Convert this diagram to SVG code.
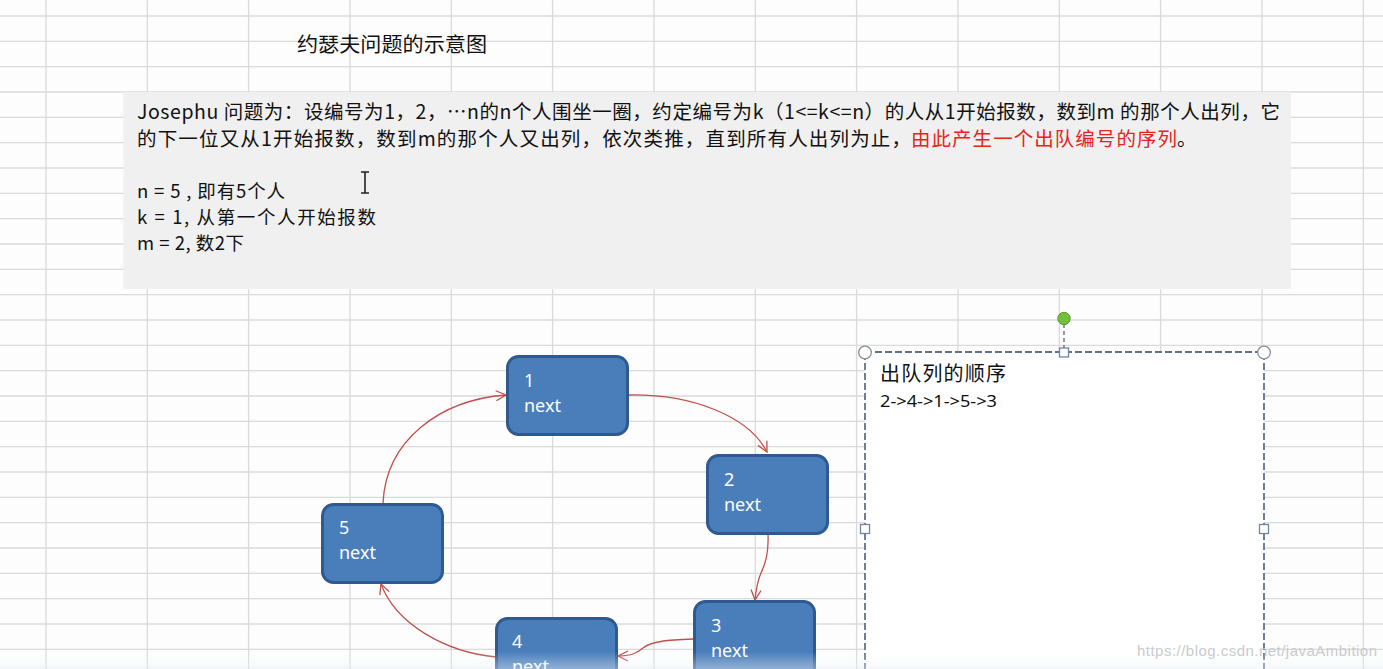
<svg xmlns="http://www.w3.org/2000/svg" width="1383" height="669" viewBox="0 0 1383 669">
<defs>
<style>
.grid line{stroke:#dadada;stroke-width:1.3}
.cjk{font-family:"Noto Sans CJK SC","Noto Sans",sans-serif;fill:#111}
.node rect{fill:#4a7ebb;stroke:#2f5a8f;stroke-width:3}
.node text{font-family:"Noto Sans","Open Sans",sans-serif;font-size:18px;fill:#fff}
.conn path{fill:none;stroke:#c0504d;stroke-width:1.3}
.handle{fill:#fff;stroke:#8a8f96;stroke-width:1.3}
.sq{fill:#fff;stroke:#6d86a8;stroke-width:1.3}
</style>
<marker id="arr" viewBox="0 0 12 12" refX="11" refY="6" markerWidth="12" markerHeight="12" markerUnits="userSpaceOnUse" orient="auto">
<path d="M1,1 L11,6 L1,11" fill="none" stroke="#c0504d" stroke-width="1.3"/>
</marker>
<linearGradient id="btm" x1="0" y1="0" x2="0" y2="1">
<stop offset="0" stop-color="#ffffff" stop-opacity="0"/>
<stop offset="1" stop-color="#e6edf2" stop-opacity="0.45"/>
</linearGradient>
</defs>
<rect width="1383" height="669" fill="#fdfdfd"/>
<g class="grid">
<line x1="46" y1="0" x2="46" y2="669"/><line x1="147.3" y1="0" x2="147.3" y2="669"/><line x1="248.6" y1="0" x2="248.6" y2="669"/><line x1="350" y1="0" x2="350" y2="669"/><line x1="451.3" y1="0" x2="451.3" y2="669"/><line x1="552.6" y1="0" x2="552.6" y2="669"/><line x1="654" y1="0" x2="654" y2="669"/><line x1="755.3" y1="0" x2="755.3" y2="669"/><line x1="856.6" y1="0" x2="856.6" y2="669"/><line x1="958" y1="0" x2="958" y2="669"/><line x1="1059.3" y1="0" x2="1059.3" y2="669"/><line x1="1160.6" y1="0" x2="1160.6" y2="669"/><line x1="1262" y1="0" x2="1262" y2="669"/><line x1="1363.3" y1="0" x2="1363.3" y2="669"/>
<line x1="0" y1="16" x2="1383" y2="16"/><line x1="0" y1="41.3" x2="1383" y2="41.3"/><line x1="0" y1="66.6" x2="1383" y2="66.6"/><line x1="0" y1="92" x2="1383" y2="92"/><line x1="0" y1="117.3" x2="1383" y2="117.3"/><line x1="0" y1="142.6" x2="1383" y2="142.6"/><line x1="0" y1="168" x2="1383" y2="168"/><line x1="0" y1="193.3" x2="1383" y2="193.3"/><line x1="0" y1="218.6" x2="1383" y2="218.6"/><line x1="0" y1="244" x2="1383" y2="244"/><line x1="0" y1="269.3" x2="1383" y2="269.3"/><line x1="0" y1="294.6" x2="1383" y2="294.6"/><line x1="0" y1="320" x2="1383" y2="320"/><line x1="0" y1="345.3" x2="1383" y2="345.3"/><line x1="0" y1="370.6" x2="1383" y2="370.6"/><line x1="0" y1="396" x2="1383" y2="396"/><line x1="0" y1="421.3" x2="1383" y2="421.3"/><line x1="0" y1="446.6" x2="1383" y2="446.6"/><line x1="0" y1="472" x2="1383" y2="472"/><line x1="0" y1="497.3" x2="1383" y2="497.3"/><line x1="0" y1="522.6" x2="1383" y2="522.6"/><line x1="0" y1="548" x2="1383" y2="548"/><line x1="0" y1="573.3" x2="1383" y2="573.3"/><line x1="0" y1="598.6" x2="1383" y2="598.6"/><line x1="0" y1="624" x2="1383" y2="624"/><line x1="0" y1="649.3" x2="1383" y2="649.3"/>
</g>
<g id="title">
<text class="cjk" x="297" y="52" font-size="20" textLength="190" lengthAdjust="spacingAndGlyphs">约瑟夫问题的示意图</text>
</g>
<g id="description">
<rect x="123.5" y="92" width="1167.5" height="197" fill="#f0f0f0"/>
<text class="cjk" x="137" y="119" font-size="19.5" textLength="1143" lengthAdjust="spacing">Josephu 问题为：设编号为1，2，…n的n个人围坐一圈，约定编号为k（1&lt;=k&lt;=n）的人从1开始报数，数到m 的那个人出列，它</text>
<text class="cjk" x="137" y="146" font-size="19.5"><tspan textLength="774" lengthAdjust="spacing">的下一位又从1开始报数，数到m的那个人又出列，依次类推，直到所有人出列为止，</tspan><tspan x="911" fill="#e8231b" textLength="266" lengthAdjust="spacing">由此产生一个出队编号的序列</tspan><tspan x="1177">。</tspan></text>
<text class="cjk" x="137" y="198" font-size="18.5" textLength="148" lengthAdjust="spacing">n = 5 , 即有5个人</text>
<text class="cjk" x="137" y="224" font-size="18.5" textLength="239" lengthAdjust="spacing">k = 1, 从第一个人开始报数</text>
<text class="cjk" x="137" y="250" font-size="18.5" textLength="107" lengthAdjust="spacing">m = 2, 数2下</text>
<path d="M361,172 h8 M365,172 v21 M361,193 h8" fill="none" stroke="#222" stroke-width="1.6"/>
</g>
<g id="order-box">
<rect x="865" y="352" width="399" height="330" fill="#ffffff" stroke="#62718a" stroke-width="1.8" stroke-dasharray="7,3"/>
<line x1="1064" y1="324" x2="1064" y2="348" stroke="#62718a" stroke-width="1.4" stroke-dasharray="4,3"/>
<circle cx="1064" cy="318.5" r="6.2" fill="#72bf3c" stroke="#5a9a2c" stroke-width="1"/>
<circle class="handle" cx="865" cy="352.5" r="6.3"/>
<circle class="handle" cx="1264" cy="352.5" r="6.3"/>
<rect class="sq" x="1059.5" y="348" width="9" height="9"/>
<rect class="sq" x="860.5" y="524.5" width="9" height="9"/>
<rect class="sq" x="1259.5" y="524.5" width="9" height="9"/>
<text class="cjk" x="880" y="381" font-size="20" textLength="126" lengthAdjust="spacing">出队列的顺序</text>
<text x="880" y="407" font-family="Noto Sans, Open Sans, sans-serif" font-size="15.5" fill="#111" textLength="117" lengthAdjust="spacingAndGlyphs">2-&gt;4-&gt;1-&gt;5-&gt;3</text>
</g>
<g class="conn" id="connectors">
<path d="M629,395 C690,394 748,415 767,452" marker-end="url(#arr)"/>
<path d="M768,534 C769,556 764,566 761,573 C757,582 756,590 755,600" marker-end="url(#arr)"/>
<path d="M693,639 C668,640 652,641 643,648 C636,654 630,656 618,656" marker-end="url(#arr)"/>
<path d="M496,657 C445,652 396,624 381,584" marker-end="url(#arr)"/>
<path d="M383,503 C386,440 440,400 506,395" marker-end="url(#arr)"/>
</g>
<g class="node" id="node1"><rect x="507.5" y="356.5" width="120" height="78" rx="11"/><text x="524" y="387">1</text><text x="524" y="412">next</text></g>
<g class="node" id="node2"><rect x="707.5" y="455.5" width="120" height="78" rx="11"/><text x="724" y="486">2</text><text x="724" y="511">next</text></g>
<g class="node" id="node3"><rect x="694.5" y="601.5" width="120" height="78" rx="11"/><text x="711" y="632">3</text><text x="711" y="657">next</text></g>
<g class="node" id="node4"><rect x="496.5" y="618.5" width="120" height="78" rx="11"/><text x="512" y="673">next</text><text x="512" y="648">4</text></g>
<g class="node" id="node5"><rect x="322.5" y="504.5" width="120" height="78" rx="11"/><text x="339" y="534">5</text><text x="339" y="559">next</text></g>
<rect x="0" y="652" width="1383" height="17" fill="url(#btm)"/>
<text x="1137" y="656" font-family="Liberation Sans, sans-serif" font-size="15" fill="#c9cbcd" textLength="240" lengthAdjust="spacing">https://blog.csdn.net/javaAmbition</text>
</svg>
